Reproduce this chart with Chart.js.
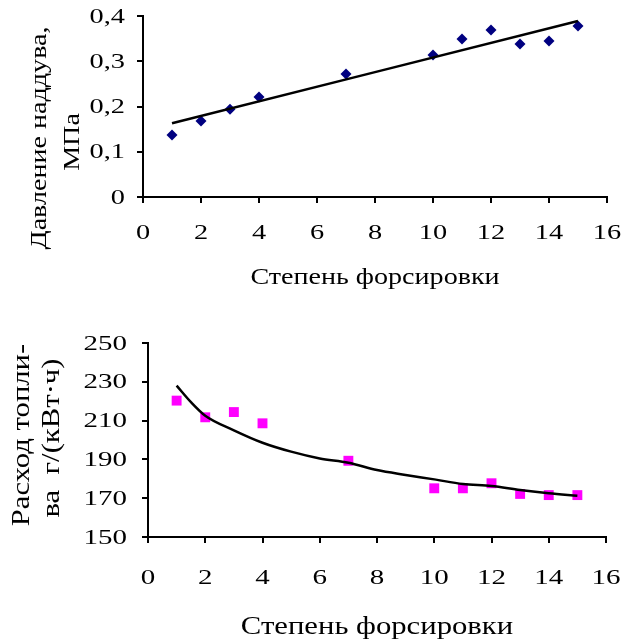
<!DOCTYPE html>
<html>
<head>
<meta charset="utf-8">
<script src="https://cdn.jsdelivr.net/npm/chart.js@4.4.0/dist/chart.umd.min.js"></script>
<style>
  body { margin: 0; background: #fff; }
  #wrap { position: relative; width: 622px; height: 643px; }
  canvas { position: absolute; left: 0; }
</style>
</head>
<body>
<div id="wrap">
  <canvas id="chartPressure" width="622" height="300" style="top:0"></canvas>
  <canvas id="chartFuel" width="622" height="323" style="top:320px"></canvas>
</div>
<script>
// степень форсировки
const boostX = [1, 2, 3, 4, 7, 10, 11, 12, 13, 14, 15];
// давление наддува, МПа
const pressure = [0.137, 0.168, 0.194, 0.221, 0.272, 0.314, 0.349, 0.369, 0.338, 0.345, 0.378];
// линия тренда (концы прямой)
const pressureTrendX = [1, 15];
const pressureTrendY = [0.163, 0.389];

// расход топлива, г/(кВт·ч)
const fuel = [220.3, 211.7, 214.4, 208.6, 189.3, 175.1, 175.1, 177.7, 172.2, 171.6, 171.6];
const fuelTrendX = [1, 1.5, 2, 3, 4, 5, 6, 7, 8, 9, 10, 11, 12, 13, 14, 15];
const fuelTrendY = [228, 219.5, 212.5, 205, 198.6, 194, 190.5, 188.3, 184.5, 182, 179.7, 177.3, 176.3, 174.2, 172.5, 171.3];

const xTicks = [0, 2, 4, 6, 8, 10, 12, 14, 16];
const pressureTicks = [0, 0.1, 0.2, 0.3, 0.4];
const fuelTicks = [150, 170, 190, 210, 230, 250];

const serif = "'Liberation Serif', 'Times New Roman', serif";

function pts(xs, ys) {
  return xs.map((x, i) => ({ x: x, y: ys[i] }));
}

// текст в оригинале заметно шире обычного Times, поэтому растягиваем по горизонтали
function drawText(ctx, text, x, y, size, stretch, align, rotated) {
  ctx.save();
  ctx.translate(x, y);
  if (rotated) ctx.rotate(-Math.PI / 2);
  ctx.scale(stretch, 1);
  ctx.font = size + "px " + serif;
  ctx.fillStyle = "#000";
  ctx.textAlign = align;
  ctx.textBaseline = "middle";
  ctx.fillText(text, 0, 0);
  ctx.restore();
}

// подписи делений и осей рисуем сами, позиции берём из шкал Chart.js
function labelsPlugin(cfg) {
  return {
    id: "labels",
    afterDraw(chart) {
      const ctx = chart.ctx;
      const xs = chart.scales.x, ys = chart.scales.y;
      const area = chart.chartArea;
      xs.ticks.forEach(t => {
        drawText(ctx, String(t.value), xs.getPixelForValue(t.value), area.bottom + cfg.xLabelOffset,
          cfg.tickSize, cfg.tickStretch, "center");
      });
      ys.ticks.forEach(t => {
        drawText(ctx, cfg.fmt(t.value), area.left - cfg.yLabelOffset, ys.getPixelForValue(t.value) + 1,
          cfg.tickSize, cfg.tickStretch, "right");
      });
      drawText(ctx, cfg.xTitle, cfg.xPos[0], cfg.xPos[1], cfg.titleSize, cfg.titleStretch, "center");
      cfg.yLines.forEach((line, i) => {
        drawText(ctx, line, cfg.yPos[i][0], cfg.yPos[i][1], cfg.titleSize, cfg.titleStretch, "center", true);
      });
    }
  };
}

function makeChart(id, o) {
  const axisStyle = {
    grid: { display: true, drawOnChartArea: false, drawTicks: true, tickLength: 6, color: "#000", lineWidth: 2 },
    border: { display: true, color: "#000", width: 2 },
    ticks: { display: false }
  };
  return new Chart(document.getElementById(id), {
    type: "scatter",
    data: {
      datasets: [
        {
          data: pts(o.trendX, o.trendY),
          showLine: true,
          borderColor: "#000",
          borderWidth: 2.5,
          pointRadius: 0,
          cubicInterpolationMode: "monotone"
        },
        {
          data: pts(boostX, o.values),
          pointStyle: o.marker,
          pointRadius: o.radius,
          backgroundColor: o.color,
          borderColor: o.color,
          borderWidth: 0
        }
      ]
    },
    options: {
      responsive: false,
      animation: false,
      layout: { padding: { top: o.area.top, right: o.canvasW - o.area.right, left: 0, bottom: 0 } },
      plugins: { legend: { display: false }, tooltip: { enabled: false } },
      scales: {
        x: Object.assign({
          type: "linear",
          min: 0, max: 16,
          afterBuildTicks: s => { s.ticks = xTicks.map(v => ({ value: v })); },
          afterFit: s => { s.height = o.canvasH - o.area.bottom; }
        }, axisStyle),
        y: Object.assign({
          type: "linear",
          min: o.yTicks[0], max: o.yTicks[o.yTicks.length - 1],
          afterBuildTicks: s => { s.ticks = o.yTicks.map(v => ({ value: v })); },
          afterFit: s => { s.width = o.area.left; }
        }, axisStyle)
      }
    },
    plugins: [labelsPlugin(o.labels)]
  });
}

makeChart("chartPressure", {
  canvasW: 622, canvasH: 300,
  area: { left: 143, right: 607, top: 16, bottom: 197 },
  values: pressure, trendX: pressureTrendX, trendY: pressureTrendY,
  marker: "rectRot", radius: 5.5, color: "#000080",
  yTicks: pressureTicks,
  labels: {
    fmt: v => (v === 0 ? "0" : v.toFixed(1).replace(".", ",")),
    tickSize: 21, tickStretch: 1.35, xLabelOffset: 36, yLabelOffset: 18,
    titleSize: 24, titleStretch: 1.17,
    xTitle: "Степень форсировки", xPos: [375, 278],
    yLines: ["Давление наддува,", "МПа"], yPos: [[40, 138], [73, 142]]
  }
});

makeChart("chartFuel", {
  canvasW: 622, canvasH: 323,
  area: { left: 148, right: 606, top: 23, bottom: 217 },
  values: fuel, trendX: fuelTrendX, trendY: fuelTrendY,
  marker: "rect", radius: 7, color: "#FF00FF",
  yTicks: fuelTicks,
  labels: {
    fmt: v => String(v),
    tickSize: 21, tickStretch: 1.38, xLabelOffset: 41, yLabelOffset: 21,
    titleSize: 26, titleStretch: 1.18,
    xTitle: "Степень форсировки", xPos: [377, 307],
    yLines: ["Расход топли-", "ва  г/(кВт·ч)"], yPos: [[22, 115], [52, 118]]
  }
});
</script>
</body>
</html>
